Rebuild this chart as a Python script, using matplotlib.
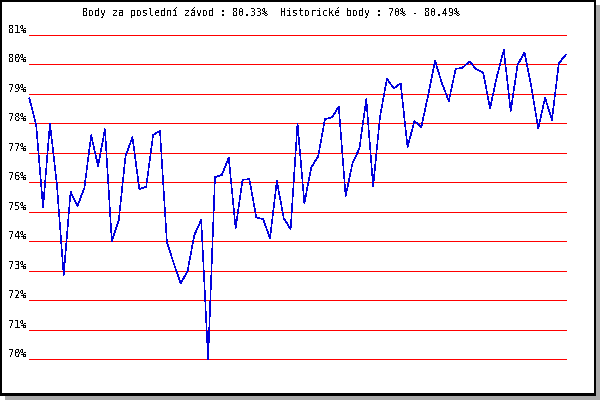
import matplotlib
matplotlib.use('Agg')
import matplotlib.pyplot as plt
from matplotlib.patches import Rectangle

# scores per race (%)
points = [78.85, 77.95, 75.14, 78.0, 75.95, 72.85, 75.68, 75.2, 75.8, 77.6,
          76.55, 77.8, 74.0, 74.7, 76.9, 77.53, 75.77, 75.85, 77.6, 77.75,
          73.98, 73.25, 72.57, 72.97, 74.21, 74.72, 70.0, 76.17, 76.25, 76.84,
          74.44, 76.08, 76.11, 74.81, 74.75, 74.1, 76.04, 74.78, 74.41, 78.0,
          75.29, 76.51, 76.87, 78.15, 78.2, 78.57, 75.53, 76.65, 77.15, 78.82,
          75.87, 78.23, 79.51, 79.19, 79.36, 77.19, 78.08, 77.87, 78.96, 80.13,
          79.36, 78.76, 79.85, 79.89, 80.1, 79.84, 79.72, 78.51, 79.6, 80.49,
          78.42, 79.98, 80.41, 79.25, 77.83, 78.87, 78.12, 80.04, 80.33]
grid_levels = list(range(70, 82))
tick_labels = [f'{v}%' for v in grid_levels]
title = 'Body za poslední závod : 80.33%  Historické body : 70% - 80.49%'

plt.rcParams['text.antialiased'] = False
mono = 'DejaVu Sans Mono'

W, H = 600, 400
fig = plt.figure(figsize=(6, 4), dpi=100)
fig.patch.set_facecolor('white')


def px_rect(x0, y0, x1, y1, color):
    # rectangle in pixel coords, origin top-left
    fig.add_artist(Rectangle((x0 / W, 1 - y1 / H), (x1 - x0) / W, (y1 - y0) / H,
                             transform=fig.transFigure, facecolor=color,
                             edgecolor='none', zorder=-2, antialiased=False))


# drop shadow + black frame
px_rect(5, 396, 600, 400, '#aaaaaa')
px_rect(596, 5, 600, 400, '#aaaaaa')
px_rect(0, 0, 596, 396, 'black')
px_rect(2, 2, 594, 393, 'white')

ax = fig.add_axes([29.3 / W, 1 - 359 / H, 536.4 / W, 324 / H])
ax.set_facecolor('none')
ax.set_xlim(0, len(points) - 1)
ax.set_ylim(70, 81)
ax.axis('off')

for v, lab in zip(grid_levels, tick_labels):
    ax.axhline(v, color='#ff0000', lw=0.7, antialiased=False, clip_on=False)
    ax.annotate(lab, xy=(0, v), xycoords=ax.get_yaxis_transform(),
                xytext=(-3, 2), textcoords='offset pixels',
                ha='right', va='baseline', fontsize=7.4, family=mono)

ax.plot(range(len(points)), points, color='#0000dd', lw=0.4,
        antialiased=False, clip_on=False, zorder=3)

fig.text(271.5 / W, 1 - 13 / H, title, ha='center', va='center',
         fontsize=7.2, family=mono)

fig.savefig('out.png', dpi=100)
